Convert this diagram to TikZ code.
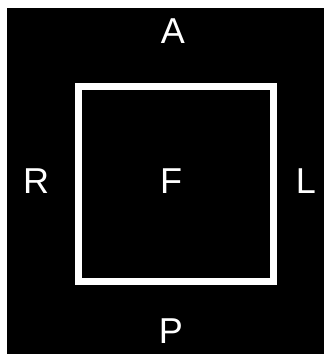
\documentclass[tikz,border=0pt]{standalone}
\usepackage{fontspec}
\setmainfont{Liberation Sans}
\usetikzlibrary{positioning}

\begin{document}
\begin{tikzpicture}[
  x=1pt, y=-1pt,
  frm/.style={draw=white, line width=7pt, minimum width=195pt, minimum height=195pt,
              inner sep=0pt},
  lbl/.style={text=white, font=\fontsize{36}{40}\selectfont, inner sep=0pt}
]
% page and dark field
\fill[white] (0,0) rectangle (324,354);
\fill[black] (7,8) rectangle (324,354);
\useasboundingbox (0,0) rectangle (324,354);

\node[frm] (box) at (176,184) {};
\node[lbl] (front) at (171,181) {F};
\node[lbl] (ant)   at (173,31)  {A};
\node[lbl] (post)  at (171,331) {P};
\node[lbl] (rgt)   at (36,181)  {R};
\node[lbl] (lft)   at (306,181) {L};
\end{tikzpicture}
\end{document}
